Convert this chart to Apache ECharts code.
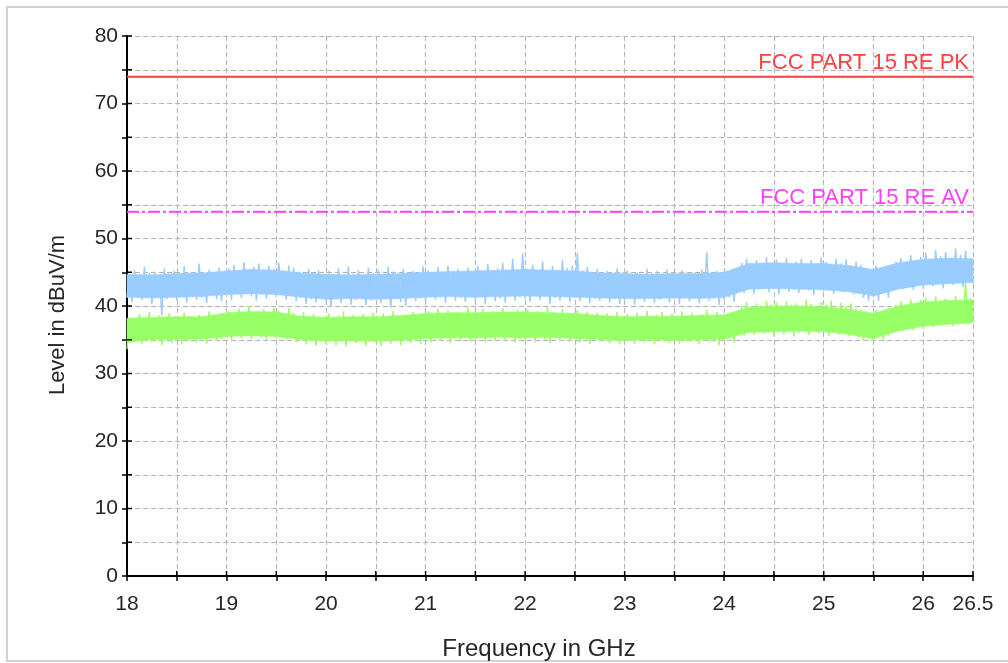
<!DOCTYPE html>
<html>
<head>
<meta charset="utf-8">
<script src="https://cdn.jsdelivr.net/npm/echarts@6/dist/echarts.min.js"></script>
<style>
  html, body { margin: 0; padding: 0; background: #fff; }
  #chart { width: 1008px; height: 663px; }
</style>
</head>
<body>
<div id="chart"></div>
<script>
// Sweep from 18 to 26.5 GHz, one sample every 25 MHz
const freqStart = 18;
const freqStop = 26.5;
const freqStep = 0.025;
// The solid body of each trace is given every 250 MHz
const coreStep = 0.25;

// Axis scales
const levelMin = 0;
const levelMax = 80;
const levelTickStep = 5;
const freqTickStep = 0.5;

// Frequency tick labels
const xTickLabels = [18, 19, 20, 21, 22, 23, 24, 25, 26, 26.5];

// Peak detector trace (dBuV/m), 20 samples per 0.5 GHz row
const peakLevel = [
  41.2,44.6,40.6,45.3,41.5,44.1,40.9,45.8,41.8,44.9,40.3,45.1,41.4,44.3,38.6,45.6,41.0,44.8,41.7,45.2,
  40.8,44.4,41.3,45.9,40.5,44.7,41.6,45.0,40.9,46.3,41.2,44.5,40.4,45.4,41.7,44.2,41.0,45.7,40.7,44.9,
  41.5,45.6,40.9,46.1,41.8,45.2,41.2,46.5,42.0,45.0,41.4,45.8,40.8,46.3,41.7,45.4,41.1,46.0,41.9,45.5,
  41.3,46.4,41.8,45.3,40.9,46.0,41.6,45.7,40.7,45.1,41.2,44.6,40.3,45.5,41.0,44.9,40.5,45.3,41.3,44.4,
  40.6,45.2,39.9,44.7,41.1,45.6,40.4,44.5,41.4,45.9,40.2,44.8,40.9,45.3,41.5,44.3,40.1,45.7,40.8,44.9,
  41.2,45.4,40.4,44.6,41.0,45.8,39.8,45.1,41.3,44.4,40.6,45.5,40.0,44.8,41.4,45.2,40.7,44.5,41.1,45.9,
  40.5,45.3,41.6,44.7,40.9,45.8,41.3,45.0,40.4,46.0,41.7,44.9,40.8,45.5,41.2,44.6,40.6,45.7,41.5,45.1,
  40.9,45.9,41.4,44.8,40.3,46.2,41.8,45.3,40.7,45.6,41.1,46.4,40.5,45.0,41.6,47.0,40.8,45.4,41.3,47.8,
  41.0,45.5,40.6,46.1,41.7,45.2,40.9,46.6,41.4,45.4,40.3,45.9,41.2,45.1,40.8,46.8,41.5,45.6,40.6,46.0,
  41.3,47.9,40.7,45.3,41.6,45.8,40.4,44.9,41.1,45.5,40.8,44.6,41.4,45.2,40.5,44.8,41.0,45.6,40.3,44.5,
  40.9,45.3,41.4,44.7,40.2,45.0,41.1,44.4,40.6,45.5,41.5,44.8,40.4,45.2,40.9,44.3,41.3,45.4,40.5,44.9,
  41.0,44.6,40.3,45.3,41.4,44.5,40.7,45.0,41.2,44.7,40.4,45.4,41.5,48.0,40.8,44.9,41.1,45.2,40.2,44.6,
  40.9,45.1,41.3,44.8,40.6,45.6,42.2,46.4,41.9,47.0,42.7,46.0,41.8,46.8,42.5,45.9,42.9,47.2,42.0,46.3,
  42.6,46.9,41.7,46.1,42.8,47.1,42.1,45.8,42.4,46.6,41.9,47.0,42.9,46.2,42.3,46.8,41.6,45.9,42.7,47.2,
  42.2,46.5,42.8,46.0,41.8,47.0,42.5,46.3,42.0,46.9,42.6,45.8,41.7,46.6,42.3,46.1,41.2,45.6,40.8,45.2,
  41.5,46.0,40.7,45.4,41.9,45.1,41.2,45.9,42.3,46.6,42.8,47.1,42.5,46.4,43.0,47.5,42.4,46.8,43.2,47.3,
  42.7,47.9,43.4,46.9,42.9,48.3,43.6,47.4,42.6,48.0,43.8,47.1,43.1,48.5,43.5,47.6,42.8,48.2,43.9,47.0,
  43.3
];

// Average detector trace (dBuV/m)
const avgLevel = [
  33.6,38.2,34.7,37.9,35.3,38.8,34.4,38.3,35.1,39.1,34.6,37.8,35.4,38.6,34.2,38.0,35.0,38.9,34.5,38.4,
  35.2,38.1,34.3,39.0,34.9,38.5,35.5,37.9,34.6,38.7,35.0,38.2,34.4,39.2,35.3,38.4,34.8,38.8,35.1,38.0,
  35.4,39.2,35.0,38.7,35.8,39.6,35.2,38.9,35.6,40.0,35.1,39.1,35.7,38.8,35.3,39.5,35.0,39.0,35.6,39.8,
  35.2,39.3,35.7,38.9,35.0,39.7,35.5,39.0,34.6,38.6,35.1,39.1,34.3,38.2,34.9,38.8,34.1,38.4,34.7,38.0,
  34.4,38.9,35.0,38.1,34.2,38.6,34.8,39.2,34.0,38.3,35.2,38.7,34.5,37.9,34.9,38.8,34.1,38.4,35.3,39.0,
  34.6,38.2,34.1,38.9,35.1,38.5,34.4,39.3,34.8,38.0,34.2,38.7,35.0,38.4,34.5,39.1,34.9,38.6,34.3,38.8,
  35.1,39.2,34.6,38.5,35.4,39.6,34.9,38.8,35.2,39.4,34.5,38.9,35.5,39.1,34.8,38.6,35.3,39.8,34.7,39.0,
  35.0,38.7,35.4,39.5,34.6,38.9,35.2,39.3,34.9,38.6,35.5,39.7,34.7,39.0,35.3,38.8,34.5,39.4,35.1,39.2,
  34.8,39.6,35.3,38.9,34.6,39.3,35.4,38.7,35.0,39.8,34.5,39.1,35.2,38.8,34.9,39.5,35.5,39.0,34.7,38.9,
  35.1,39.4,34.6,38.7,35.3,39.2,34.4,38.5,35.0,39.0,34.7,38.3,35.2,38.9,34.5,38.6,35.4,39.1,34.3,38.4,
  34.9,38.8,35.3,38.2,34.4,39.0,35.0,38.5,34.6,39.3,35.2,38.1,34.3,38.7,35.4,39.1,34.8,38.4,34.5,38.9,
  35.1,38.3,34.4,39.2,35.3,38.6,34.7,39.0,35.0,38.2,34.3,38.8,35.2,39.4,34.6,38.5,34.9,39.1,34.2,38.7,
  34.8,38.4,35.2,39.0,34.6,38.6,35.8,40.1,35.5,40.6,36.2,39.8,35.7,40.4,36.4,39.7,35.9,40.8,36.1,40.2,
  35.6,40.5,36.3,39.9,35.8,40.7,36.5,40.1,35.5,40.4,36.0,39.6,36.4,40.9,35.7,40.3,36.2,39.8,35.9,40.6,
  36.3,40.2,35.6,40.8,36.1,39.9,35.8,40.5,36.4,40.0,35.5,40.4,36.0,39.7,35.3,39.5,34.9,39.2,35.2,39.0,
  34.8,39.4,35.5,38.9,35.0,39.6,35.6,39.1,36.2,40.2,36.6,40.7,36.3,40.0,36.9,41.0,36.4,40.5,37.1,40.9,
  36.8,41.2,37.4,40.6,36.9,41.4,37.6,40.8,37.2,41.1,37.8,40.7,37.0,41.5,37.5,40.9,37.9,43.4,37.3,41.2,
  37.6
];

// Dense body of each trace: lower and upper edge every 250 MHz (dBuV/m)
const peakCoreLow = [
  41.3,41.2,41.3,41.4,41.7,41.8,41.7,41.3,41.0,41.1,41.0,41.1,41.3,41.4,41.3,41.4,41.5,41.4,
  41.3,41.2,41.1,41.1,41.2,41.1,41.3,42.5,42.6,42.5,42.4,42.1,41.5,42.5,43.1,43.3,43.5
];
const peakCoreHigh = [
  44.7,44.6,44.8,44.9,45.2,45.4,45.3,44.9,44.7,44.6,44.7,44.8,45.0,45.1,45.2,45.3,45.4,45.3,
  45.2,44.9,44.8,44.7,44.8,44.8,45.0,46.3,46.4,46.3,46.3,46.0,45.4,46.4,46.9,47.1,47.0
];
const avgCoreLow = [
  34.6,35.0,35.0,35.1,35.5,35.6,35.5,35.0,34.8,34.8,34.8,34.9,35.2,35.3,35.3,35.4,35.3,35.4,
  35.2,35.0,34.9,35.0,34.9,35.0,35.1,36.1,36.2,36.3,36.2,35.8,35.2,36.3,37.0,37.3,37.5
];
const avgCoreHigh = [
  38.2,38.3,38.4,38.4,39.0,39.2,39.1,38.5,38.3,38.4,38.4,38.6,38.9,39.0,39.0,39.1,39.1,39.0,
  38.9,38.6,38.4,38.5,38.5,38.6,38.7,39.8,40.0,40.0,39.9,39.5,38.9,40.0,40.6,40.8,40.9
];

// FCC Part 15 radiated emission limits above 1 GHz
const limitFreq = [18, 26.5];
const limitPeak = [74, 74];
const limitAvg = [54, 54];

const FONT = '"Liberation Sans", Arial, sans-serif';
const TEXT_COLOR = '#262626';
const GRID_DASH = { color: '#b4b4b4', width: 1, type: [5, 3] };
const AXIS_BLACK = { color: '#000', width: 2 };
const TICK_BLACK = { color: '#000', width: 1.5 };
const TICK_LEN = 5;
const BLUE = '#99ccff';
const GREEN = '#99ff66';
const RED = '#ff4040';
const MAGENTA = '#ff40ff';

function sweep(levels) {
  return levels.map((v, i) => [freqStart + i * freqStep, v]);
}
function limitLine(levels) {
  return limitFreq.map((f, i) => [f, levels[i]]);
}

// Filled band between the lower and upper edge, one quad per 250 MHz step
function coreSeries(low, high, color) {
  const rows = low.map((v, i) => [freqStart + i * coreStep, v, high[i]]);
  return {
    type: 'custom', silent: true, z: 2,
    data: rows.slice(0, rows.length - 1),
    encode: { x: 0, y: [1, 2] },
    renderItem: (params, api) => {
      const a = rows[params.dataIndex];
      const b = rows[params.dataIndex + 1];
      const pts = [
        api.coord([a[0], a[1]]), api.coord([b[0], b[1]]),
        api.coord([b[0], b[2]]), api.coord([a[0], a[2]])
      ];
      return {
        type: 'polygon',
        shape: { points: pts },
        style: { fill: color, stroke: color, lineWidth: 0.6 }
      };
    }
  };
}

// Inward half of every axis tick, so the ticks cross the axis lines.
// Points on the frequency axis come first, then points on the level axis.
function innerTickSeries() {
  const pts = [];
  for (let f = freqStart; f <= freqStop + 1e-9; f += freqTickStep) pts.push([f, levelMin]);
  const nFreq = pts.length;
  for (let v = levelMin; v <= levelMax + 1e-9; v += levelTickStep) pts.push([freqStart, v]);
  return {
    type: 'custom', silent: true, z: 10, clip: false,
    data: pts,
    renderItem: (params, api) => {
      const p = api.coord([api.value(0), api.value(1)]);
      const onFreqAxis = params.dataIndex < nFreq;
      const q = onFreqAxis ? [p[0], p[1] - TICK_LEN] : [p[0] + TICK_LEN, p[1]];
      return {
        type: 'line',
        shape: { x1: p[0], y1: p[1], x2: q[0], y2: q[1] },
        style: { stroke: '#000', lineWidth: TICK_BLACK.width, fill: null }
      };
    }
  };
}

function limitSeries(name, levels, color, dash) {
  const style = { color: color, width: 1.5, type: dash };
  return {
    name: name, type: 'line', data: limitLine(levels),
    showSymbol: false, silent: true, z: 4,
    lineStyle: style,
    markLine: {
      silent: true, symbol: 'none',
      lineStyle: style,
      data: [{ yAxis: levels[levels.length - 1] }],
      label: {
        show: true, position: 'insideEndTop', distance: [4, 3],
        formatter: name, color: color,
        fontFamily: FONT, fontSize: 22
      }
    }
  };
}

const chart = echarts.init(document.getElementById('chart'), null, { renderer: 'canvas' });

chart.setOption({
  animation: false,
  backgroundColor: '#fff',
  grid: { left: 127, right: 35, top: 36, bottom: 87, containLabel: false },
  xAxis: {
    type: 'value', min: freqStart, max: freqStop, interval: freqTickStep,
    axisLine: { show: true, onZero: false, lineStyle: AXIS_BLACK },
    axisTick: { show: true, length: TICK_LEN, lineStyle: TICK_BLACK },
    splitLine: { show: true, lineStyle: GRID_DASH },
    axisLabel: {
      margin: 18, fontFamily: FONT, fontSize: 21, color: TEXT_COLOR,
      showMaxLabel: true, showMinLabel: true,
      formatter: v => {
        const f = Math.round(v * 10) / 10;
        return xTickLabels.indexOf(f) >= 0 ? String(f) : '';
      }
    }
  },
  yAxis: {
    type: 'value', min: levelMin, max: levelMax, interval: levelTickStep,
    axisLine: { show: true, onZero: false, lineStyle: AXIS_BLACK },
    axisTick: { show: true, length: TICK_LEN, lineStyle: TICK_BLACK },
    splitLine: { show: true, lineStyle: GRID_DASH },
    axisLabel: {
      margin: 9, fontFamily: FONT, fontSize: 21, color: TEXT_COLOR,
      formatter: v => (v % 10 === 0 ? String(v) : '')
    }
  },
  graphic: [
    {
      type: 'rect', silent: true, z: -1,
      shape: { x: 7, y: 7, width: 1010, height: 654 },
      style: { fill: 'none', stroke: '#d2d2d2', lineWidth: 2 }
    },
    {
      type: 'text', silent: true,
      x: 539, y: 649,
      style: {
        text: 'Frequency in GHz', fontFamily: FONT, fontSize: 24, fill: TEXT_COLOR,
        align: 'center', verticalAlign: 'middle'
      }
    },
    {
      type: 'text', silent: true,
      x: 58, y: 315, rotation: Math.PI / 2,
      style: {
        text: 'Level in dBuV/m', fontFamily: FONT, fontSize: 22, fill: TEXT_COLOR,
        align: 'center', verticalAlign: 'middle'
      }
    }
  ],
  series: [
    coreSeries(avgCoreLow, avgCoreHigh, GREEN),
    coreSeries(peakCoreLow, peakCoreHigh, BLUE),
    {
      name: 'AV', type: 'line', data: sweep(avgLevel),
      showSymbol: false, sampling: null, silent: true, z: 3,
      lineStyle: { color: GREEN, width: 1.4 }
    },
    {
      name: 'PK', type: 'line', data: sweep(peakLevel),
      showSymbol: false, sampling: null, silent: true, z: 3,
      lineStyle: { color: BLUE, width: 1.4 }
    },
    limitSeries('FCC PART 15 RE PK', limitPeak, RED, 'solid'),
    limitSeries('FCC PART 15 RE AV', limitAvg, MAGENTA, [12, 3, 3, 3]),
    innerTickSeries()
  ]
});
</script>
</body>
</html>
